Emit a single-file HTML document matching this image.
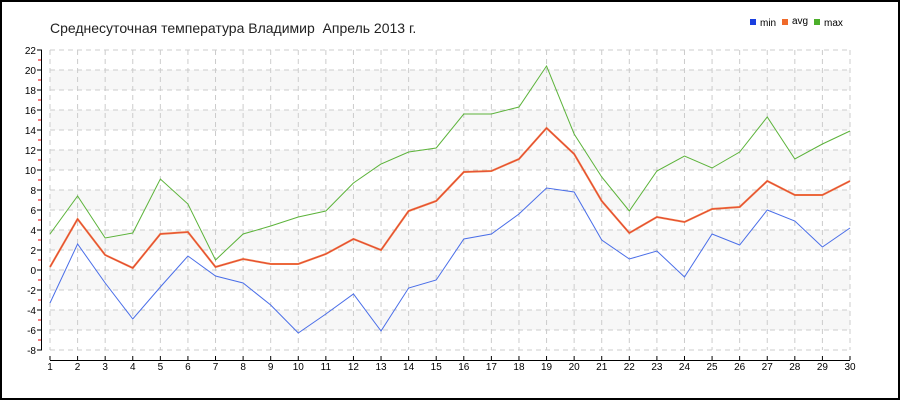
<!DOCTYPE html><html><head><meta charset="utf-8"><style>body{margin:0;background:#fff}svg{display:block}text{font-family:"Liberation Sans",sans-serif}</style></head><body>
<svg width="900" height="400" xmlns="http://www.w3.org/2000/svg">
<rect x="1" y="1" width="898" height="398" fill="#fff" stroke="#000" stroke-width="2"/>
<text x="50" y="33" font-size="14" fill="#222">Среднесуточная температура Владимир &#160;Апрель 2013 г.</text>
<rect x="750" y="19" width="6" height="6" fill="#1a3fe0"/><text x="760" y="26" font-size="10">min</text>
<rect x="782" y="19" width="6" height="6" fill="#f06a2a"/><text x="792" y="24" font-size="10">avg</text>
<rect x="814" y="19" width="6" height="6" fill="#4caf2a"/><text x="824" y="26" font-size="10">max</text>
<g id="g"></g>
</svg>
<script>
var s=document.querySelector('svg'),h='';
function Y(v){return 50+(22-v)*10}function X(d){return 50+(d-1)*800/29}
for(var v=20;v>=-4;v-=4)h+='<rect x="50" y="'+Y(v)+'" width="800" height="20" fill="#f7f7f7"/>';
for(var v=22;v>=-8;v-=2){h+='<line x1="50" x2="850" y1="'+Y(v)+'" y2="'+Y(v)+'" stroke="#ccc" stroke-dasharray="5,4"/>';
h+='<line x1="37" x2="42" y1="'+Y(v)+'" y2="'+Y(v)+'" stroke="#000"/><text x="36" y="'+(Y(v)+4)+'" font-size="10" text-anchor="end">'+v+'</text>';
if(v>-8)h+='<line x1="38" x2="42" y1="'+Y(v-1)+'" y2="'+Y(v-1)+'" stroke="#e00"/>';}
for(var d=1;d<=30;d++){h+='<line x1="'+X(d)+'" x2="'+X(d)+'" y1="50" y2="350" stroke="#ccc" stroke-dasharray="5,4"/>';
h+='<line x1="'+X(d)+'" x2="'+X(d)+'" y1="356" y2="360" stroke="#000"/><text x="'+X(d)+'" y="370" font-size="10" text-anchor="middle">'+d+'</text>';}
h+='<line x1="41.5" x2="41.5" y1="50" y2="350" stroke="#000"/><line x1="50" x2="850" y1="360.5" y2="360.5" stroke="#000"/>';
var mx=[3.6,7.4,3.2,3.7,9.1,6.6,1.0,3.6,4.4,5.3,5.9,8.7,10.6,11.8,12.2,15.6,15.6,16.3,20.4,13.6,9.3,5.9,9.9,11.4,10.2,11.8,15.3,11.1,12.6,13.9];
var av=[0.3,5.1,1.5,0.2,3.6,3.8,0.3,1.1,0.6,0.6,1.6,3.1,2.0,5.9,6.9,9.8,9.9,11.1,14.2,11.6,6.9,3.7,5.3,4.8,6.1,6.3,8.9,7.5,7.5,8.9];
var mn=[-3.3,2.6,-1.3,-4.9,-1.7,1.4,-0.6,-1.3,-3.5,-6.3,-4.4,-2.4,-6.1,-1.8,-1.0,3.1,3.6,5.6,8.2,7.8,3.0,1.1,1.9,-0.7,3.6,2.5,6.0,4.9,2.3,4.2];
function P(a,c,w){return '<polyline fill="none" stroke="'+c+'" stroke-width="'+w+'" points="'+a.map(function(v,i){return X(i+1)+','+Y(v)}).join(' ')+'"/>'}
h+=P(mn,'#4a6ee8',1)+P(mx,'#5cb33a',1)+P(av,'#f07a40',2)+P(av,'#d33',0.6);
document.getElementById('g').innerHTML=h;
</script></body></html>
